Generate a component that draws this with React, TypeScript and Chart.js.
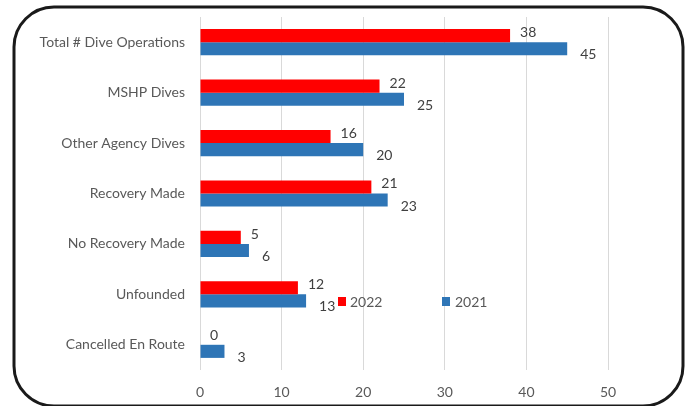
import React, { useEffect, useRef } from "react";
import { Chart, registerables } from "chart.js";

Chart.register(...registerables);

const categories = [
  "Total # Dive Operations",
  "MSHP Dives",
  "Other Agency Dives",
  "Recovery Made",
  "No Recovery Made",
  "Unfounded",
  "Cancelled En Route",
];
const values2022 = [38, 22, 16, 21, 5, 12, 0];
const values2021 = [45, 25, 20, 23, 6, 13, 3];
const xTicks = [0, 10, 20, 30, 40, 50];

const RED = "#ff0000";
const BLUE = "#2e75b6";
const FONT = "Lato, 'Noto Sans', sans-serif";

const framePlugin = {
  id: "frame",
  beforeDraw(chart: any) {
    const ctx = chart.ctx;
    ctx.save();
    ctx.fillStyle = "#ffffff";
    ctx.fillRect(0, 0, chart.width, chart.height);
    ctx.strokeStyle = "#1a1a1a";
    ctx.lineWidth = 3;
    ctx.beginPath();
    ctx.roundRect(14, 7, 669, 399, 40);
    ctx.stroke();
    ctx.restore();
  },
};

const labelPlugin = {
  id: "valueLabels",
  afterDatasetsDraw(chart: any) {
    const ctx = chart.ctx;
    ctx.save();
    ctx.font = `14px ${FONT}`;
    ctx.fillStyle = "#404040";
    ctx.textBaseline = "middle";
    ctx.textAlign = "left";
    chart.data.datasets.forEach((ds: any, di: number) => {
      const meta = chart.getDatasetMeta(di);
      meta.data.forEach((el: any, i: number) => {
        const v = ds.data[i];
        if (di === 0) ctx.fillText(String(v), el.x + 10, el.y - 3);
        else ctx.fillText(String(v), el.x + 13, el.y + 6);
      });
    });
    // legend
    ctx.font = `14px ${FONT}`;
    ctx.fillStyle = RED;
    ctx.fillRect(338, 297, 8, 9);
    ctx.fillStyle = BLUE;
    ctx.fillRect(442, 297, 8, 9);
    ctx.fillStyle = "#595959";
    ctx.fillText("2022", 350, 302);
    ctx.fillText("2021", 455, 302);
    ctx.restore();
  },
};

export default function App() {
  const ref = useRef<HTMLCanvasElement>(null);
  useEffect(() => {
    document.body.style.margin = "0";
    const chart = new Chart(ref.current!, {
      type: "bar",
      data: {
        labels: categories,
        datasets: [
          { label: "2022", data: values2022, backgroundColor: RED },
          { label: "2021", data: values2021, backgroundColor: BLUE },
        ],
      },
      options: {
        indexAxis: "y",
        animation: false,
        responsive: false,
        devicePixelRatio: 1,
        datasets: { bar: { categoryPercentage: 0.52, barPercentage: 1 } },
        layout: { padding: { left: 0, right: 79, top: 17, bottom: 0 } },
        plugins: { legend: { display: false }, tooltip: { enabled: false } },
        scales: {
          x: {
            min: 0,
            max: 50,
            afterBuildTicks: (s: any) => {
              s.ticks = xTicks.map((v) => ({ value: v }));
            },
            afterFit: (s: any) => {
              s.height = 36;
              s.paddingLeft = 0;
              s.paddingRight = 0;
            },
            grid: { color: "#d9d9d9", drawTicks: false },
            border: { display: false },
            ticks: {
              color: "#595959",
              font: { family: FONT, size: 14 },
              padding: 14,
            },
          },
          y: {
            afterFit: (s: any) => {
              s.width = 200;
              s.paddingTop = 0;
              s.paddingBottom = 0;
            },
            grid: { display: false, drawTicks: false },
            border: { display: false },
            ticks: {
              color: "#595959",
              font: { family: FONT, size: 14 },
              padding: 15,
            },
          },
        },
      },
      plugins: [framePlugin, labelPlugin],
    });
    return () => chart.destroy();
  }, []);
  return <canvas ref={ref} width={687} height={406} style={{ display: "block" }} />;
}
